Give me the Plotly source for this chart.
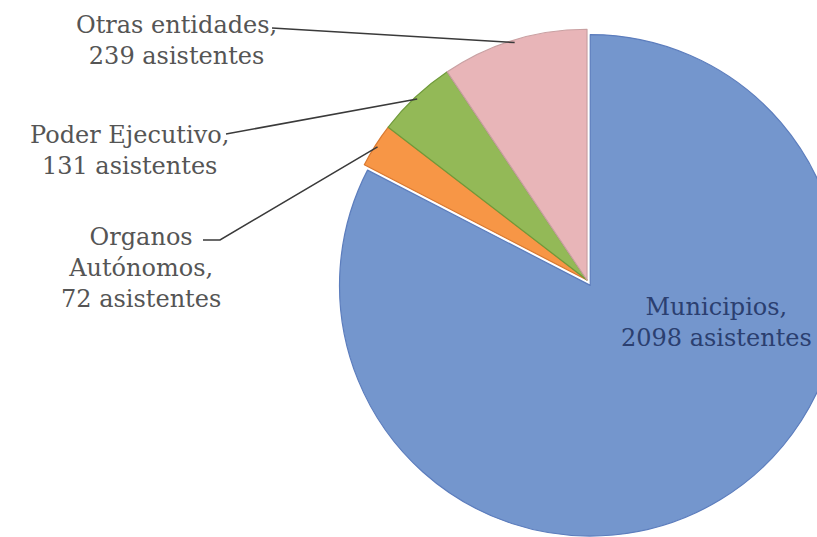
import numpy as np
import plotly.graph_objects as go

# ---- data ----
categories = ["Municipios", "Organos Autónomos", "Poder Ejecutivo", "Otras entidades"]
values = [2098, 72, 131, 239]
label_texts = [
    "Municipios,<br>2098 asistentes",
    "Organos<br>Autónomos,<br>72 asistentes",
    "Poder Ejecutivo,<br>131 asistentes",
    "Otras entidades,<br>239 asistentes",
]
colors = ["#7496CD", "#F79646", "#93B957", "#E8B5B8"]
edge_colors = ["#5C7DBD", "#D9782F", "#6F9A3A", "#C9A0A2"]
pulls = [0.025, 0, 0, 0]

# ---- layout geometry (pixels) ----
W, H = 850, 537
CX, CY = 587, 280
DOM = 514
PULL_MAX = max(pulls)
R = DOM / (2 + 2 * PULL_MAX)

def px2paper(x, y):
    return x / W, 1 - y / H

fig = go.Figure(go.Pie(
    labels=categories,
    values=values,
    sort=False,
    direction="clockwise",
    rotation=0,
    pull=pulls,
    marker=dict(colors=colors, line=dict(color=edge_colors, width=1.2)),
    textinfo="none",
    hoverinfo="label+value",
    showlegend=False,
    domain=dict(x=[(CX - DOM / 2) / W, (CX + DOM / 2) / W], y=[0, DOM / H]),
))

# slice mid-angles (clockwise from 12 o'clock)
vals = np.array(values, dtype=float)
total = vals.sum()
cum = np.cumsum(vals) / total * 360
mid = cum - vals / total * 360 / 2

def rim_point(idx, rfrac=1.0):
    th = np.deg2rad(mid[idx])
    return CX + R * rfrac * np.sin(th), CY - R * rfrac * np.cos(th)

label_font = dict(family="DejaVu Serif", size=24, color="#555555")

# text anchors (pixels) for labels
text_pos = {
    0: (716, 322),
    1: (141, 268),
    2: (129, 150),
    3: (176, 40),
}
for i, (tx, ty) in text_pos.items():
    x, y = px2paper(tx, ty)
    font = dict(label_font)
    if i == 0:
        font["color"] = "#2B3F70"
    fig.add_annotation(x=x, y=y, xref="paper", yref="paper", text=label_texts[i],
                       showarrow=False, xanchor="center", yanchor="middle",
                       font=font, align="center")

line_style = dict(color="#3A3A3A", width=1.5)
# Otras entidades leader
sx, sy = px2paper(272, 28)
ex, ey = px2paper(*rim_point(3, 0.99))
fig.add_shape(type="line", xref="paper", yref="paper", x0=sx, y0=sy, x1=ex, y1=ey, line=line_style)
# Poder Ejecutivo leader
sx, sy = px2paper(226, 134)
ex, ey = px2paper(*rim_point(2, 0.99))
fig.add_shape(type="line", xref="paper", yref="paper", x0=sx, y0=sy, x1=ex, y1=ey, line=line_style)
# Organos Autonomos leader (dash + diagonal)
ax0, ay0 = px2paper(203, 240)
ax1, ay1 = px2paper(220, 240)
ex, ey = px2paper(*rim_point(1, 0.99))
fig.add_shape(type="path", xref="paper", yref="paper",
              path=f"M {ax0},{ay0} L {ax1},{ay1} L {ex},{ey}", line=line_style)

fig.update_layout(
    width=W, height=H,
    margin=dict(l=0, r=0, t=0, b=0),
    paper_bgcolor="white",
    plot_bgcolor="white",
)

fig.write_html(
    "out.html",
    config={"displayModeBar": False},
    post_script="document.body.style.margin='0';document.body.style.overflow='hidden';document.documentElement.style.overflow='hidden';",
)
